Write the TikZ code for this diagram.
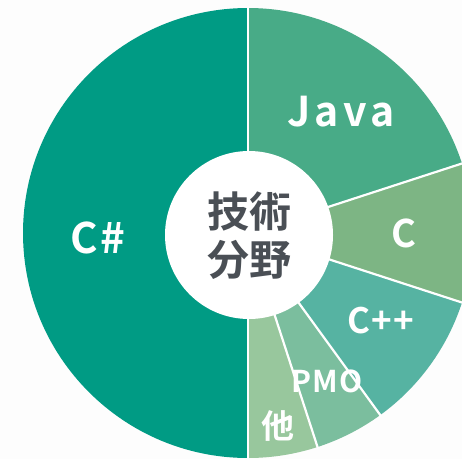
\documentclass[tikz,border=0pt]{standalone}
\usepackage{fontspec}
\setmainfont{Noto Sans CJK JP}[BoldFont={Noto Sans CJK JP Bold}]
\definecolor{bgc}{HTML}{FDFDFD}
\definecolor{csharp}{HTML}{009B84}
\definecolor{java}{HTML}{48AB87}
\definecolor{cc}{HTML}{7DB584}
\definecolor{cpp}{HTML}{56B3A2}
\definecolor{pmo}{HTML}{7BBE9E}
\definecolor{other}{HTML}{98C79D}
\definecolor{centertxt}{HTML}{4A4F55}
\begin{document}
\begin{tikzpicture}[x=1pt,y=1pt,
  lbl/.style={text=white,font=\bfseries,anchor=base,inner sep=0pt},
  sep/.style={white,line width=2.2pt},
  ctr/.style={text=centertxt,font=\bfseries\fontsize{42}{42}\selectfont,anchor=base,inner sep=0pt}]
\fill[bgc] (0,0) rectangle (462,459);
\useasboundingbox (0,0) rectangle (462,459);
\coordinate (O) at (248,226);
\def\R{225}
\fill[csharp] (O) -- ++(90:\R) arc[start angle=90,end angle=270,radius=\R] -- cycle;
\fill[java] (O) -- ++(18:\R) arc[start angle=18,end angle=90,radius=\R] -- cycle;
\fill[cc] (O) -- ++(-18:\R) arc[start angle=-18,end angle=18,radius=\R] -- cycle;
\fill[cpp] (O) -- ++(-54:\R) arc[start angle=-54,end angle=-18,radius=\R] -- cycle;
\fill[pmo] (O) -- ++(-72:\R) arc[start angle=-72,end angle=-54,radius=\R] -- cycle;
\fill[other] (O) -- ++(-90:\R) arc[start angle=-90,end angle=-72,radius=\R] -- cycle;
% labels
\node[lbl,font=\bfseries\fontsize{41}{41}\selectfont\addfontfeature{LetterSpace=10}] (tjava) at (341,333) {Java};
\node[lbl,font=\bfseries\fontsize{38}{38}\selectfont] (tc) at (404,212) {C};
\node[lbl,font=\bfseries\fontsize{42}{42}\selectfont\addfontfeature{LetterSpace=6}] (tcs) at (98,206) {C\#};
\node[lbl,font=\bfseries\fontsize{35}{35}\selectfont\addfontfeature{LetterSpace=4}] (tcpp) at (381,126) {C++};
\node[lbl,font=\bfseries\fontsize{30}{30}\selectfont\addfontfeature{LetterSpace=4}] (tpmo) at (327,67) {PMO};
\node[lbl,font=\bfseries\fontsize{33}{33}\selectfont] (toth) at (278,21) {他};
% separators
\foreach \a in {90,18,-18,-54,-72,-90}{
  \draw[sep] (O) -- ++(\a:\R+2);
}
% inner circle
\fill[white] (249,224) circle[radius=84];
\node[ctr] (t1) at (249,232) {技術};
\node[ctr] (t2) at (249,184) {分野};
\end{tikzpicture}
\end{document}
